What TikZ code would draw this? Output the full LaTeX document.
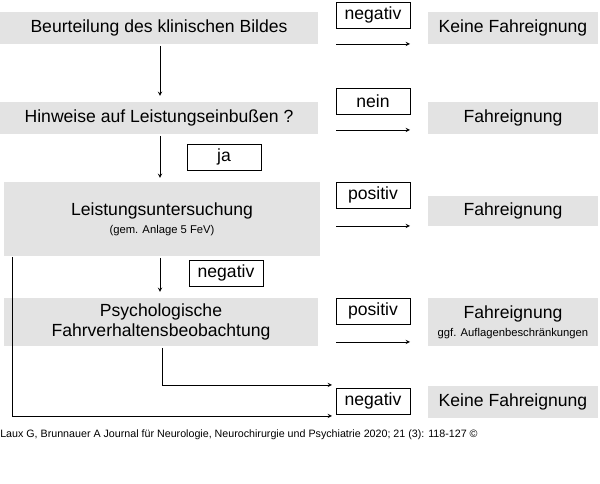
\documentclass[tikz,border=0pt]{standalone}
\usepackage{fontspec}
\setmainfont{Liberation Sans}
\usetikzlibrary{positioning}
\tikzset{
    stage/.style={fill=gray!22, inner sep=0pt, font=\fontsize{12.5}{14}\selectfont, align=center},
    result/.style={fill=gray!22, inner sep=0pt, font=\fontsize{12.5}{14}\selectfont, align=center, minimum width=4.25cm},
    tag/.style={draw=black, fill=white, inner sep=0pt, font=\fontsize{12.5}{14}\selectfont, minimum width=1.85cm, minimum height=0.65cm},
    flow/.style={->, >=stealth, thin}
}
\begin{document}
\begin{tikzpicture}[x=0.025cm, y=-0.025cm]
	\useasboundingbox (0,0) rectangle (600,484);
	% left column
	\node[stage, minimum width=7.95cm, minimum height=0.8cm] (klin) at (159,28) {Beurteilung des klinischen Bildes};
	\node[stage, minimum width=7.95cm, minimum height=0.8cm] (hinw) at (159,118) {Hinweise auf Leistungseinbu\ss en ?};
	\node[stage, minimum width=7.9cm, minimum height=1.85cm] (leist) at (162,219) {Leistungsuntersuchung\\[-1pt]{\fontsize{8}{9}\selectfont (gem. Anlage 5 FeV)}};
	\node[stage, minimum width=7.85cm, minimum height=1.2cm] (psych) at (161,322) {Psychologische\\Fahrverhaltensbeobachtung};
	% right column
	\node[result, minimum height=0.8cm] (r1) at (513,28) {Keine Fahreignung};
	\node[result, minimum height=0.8cm] (r2) at (513,118) {Fahreignung};
	\node[result, minimum height=0.75cm] (r3) at (513,211) {Fahreignung};
	\node[result, minimum height=1.2cm] (r4) at (513,322) {Fahreignung\\[-1pt]{\fontsize{8}{9}\selectfont ggf. Auflagenbeschr\"ankungen}};
	\node[result, minimum height=0.8cm] (r5) at (513,402) {Keine Fahreignung};
	% tags
	\node[tag] (t1) at (373,15) {negativ};
	\node[tag] (t2) at (373,101) {nein};
	\node[tag] (t3) at (224,157) {ja};
	\node[tag] (t4) at (373,195) {positiv};
	\node[tag] (t5) at (226,273) {negativ};
	\node[tag] (t6) at (373,311) {positiv};
	\node[tag] (t7) at (373,401) {negativ};
	% arrows
	\coordinate (a1) at (336,44);   \coordinate (b1) at (410,44);
	\coordinate (a2) at (336,130);  \coordinate (b2) at (410,130);
	\coordinate (a3) at (336,226);  \coordinate (b3) at (410,226);
	\coordinate (a4) at (336,342);  \coordinate (b4) at (410,342);
	\draw[flow] (a1) -- (b1);
	\draw[flow] (a2) -- (b2);
	\draw[flow] (a3) -- (b3);
	\draw[flow] (a4) -- (b4);
	\draw[flow] (160,46) -- (160,96);
	\draw[flow] (160,136) -- (160,178);
	\draw[flow] (160,258) -- (160,292);
	\draw[flow] (162,348) |- (332,385);
	\draw[flow] (12,257) |- (332,416);
	% source
	\node[anchor=west, inner sep=0pt, font=\fontsize{7.6}{9}\selectfont] (src) at (0,435) {Laux G, Brunnauer A Journal f\"ur Neurologie, Neurochirurgie und Psychiatrie 2020; 21 (3): 118-127 \textcopyright};
\end{tikzpicture}
\end{document}
